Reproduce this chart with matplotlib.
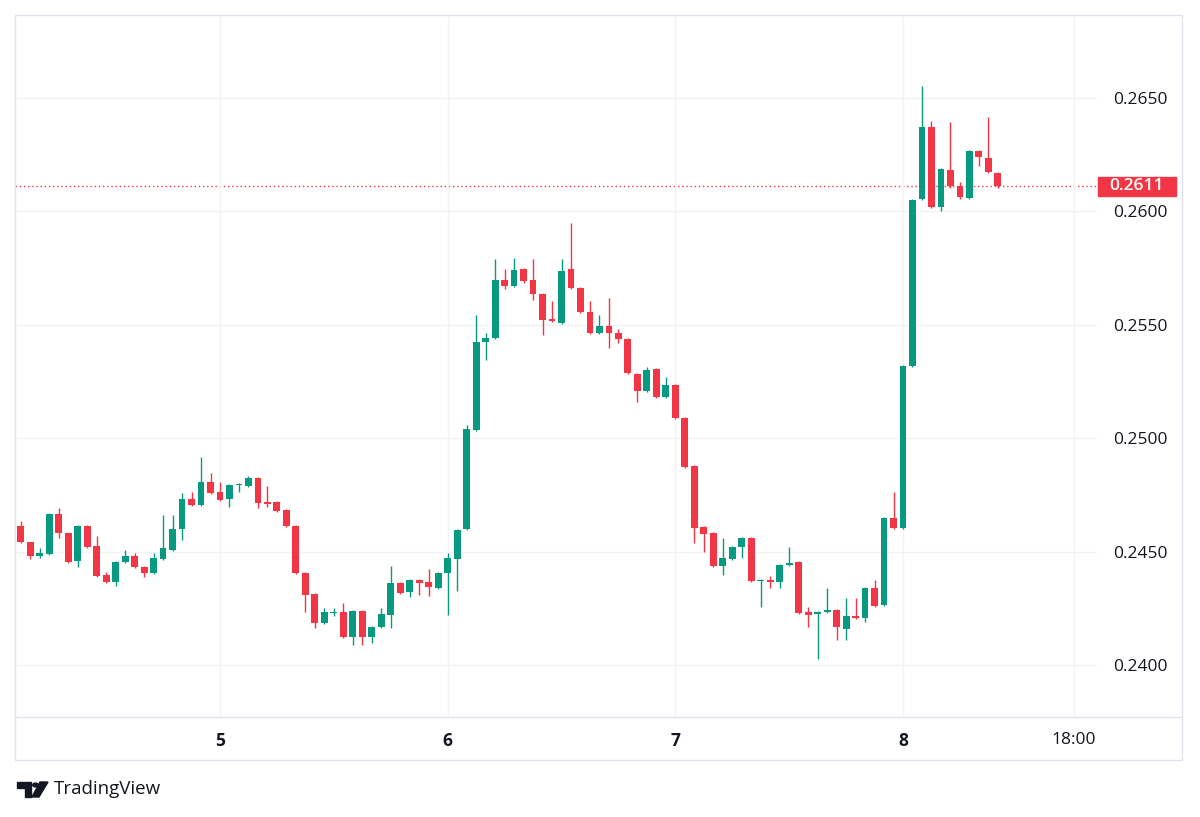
import matplotlib.pyplot as plt
import matplotlib.transforms as mtransforms
from matplotlib.patches import Rectangle, Polygon, Circle
from matplotlib.lines import Line2D

plt.rcParams['font.family'] = ['Open Sans', 'DejaVu Sans']

# one candle per hour, hours counted from the 5th 00:00
hours = list(range(-21, 83))

opens = [
    0.24613, 0.24542, 0.24481, 0.24489, 0.24666, 0.24582, 0.24459, 0.24613, 0.24525, 0.24397,
    0.24366, 0.24454, 0.24481, 0.24432, 0.24406, 0.24467, 0.24507, 0.24600, 0.24732, 0.24706,
    0.24807, 0.24763, 0.24732, 0.24794, 0.24789, 0.24825, 0.24719, 0.24719, 0.24683, 0.24613,
    0.24406, 0.24313, 0.24185, 0.24229, 0.24234, 0.24124, 0.24238, 0.24124, 0.24168, 0.24221,
    0.24362, 0.24322, 0.24375, 0.24366, 0.24340, 0.24406, 0.24467, 0.24600, 0.25036, 0.25424,
    0.25442, 0.25698, 0.25671, 0.25746, 0.25698, 0.25636, 0.25526, 0.25508, 0.25746, 0.25662,
    0.25556, 0.25464, 0.25495, 0.25464, 0.25437, 0.25283, 0.25208, 0.25305, 0.25182, 0.25235,
    0.25089, 0.24878, 0.24609, 0.24582, 0.24437, 0.24467, 0.24520, 0.24560, 0.24370, 0.24375,
    0.24366, 0.24441, 0.24454, 0.24234, 0.24225, 0.24234, 0.24243, 0.24159, 0.24216, 0.24207,
    0.24340, 0.24265, 0.24648, 0.24604, 0.25318, 0.26055, 0.26372, 0.26019, 0.26183, 0.26110,
    0.26059, 0.26266, 0.26235, 0.26169,
]
highs = [
    0.24635, 0.24542, 0.24516, 0.24670, 0.24692, 0.24582, 0.24617, 0.24617, 0.24569, 0.24410,
    0.24459, 0.24507, 0.24494, 0.24437, 0.24494, 0.24661, 0.24661, 0.24758, 0.24763, 0.24917,
    0.24847, 0.24807, 0.24798, 0.24803, 0.24833, 0.24829, 0.24789, 0.24723, 0.24688, 0.24617,
    0.24410, 0.24318, 0.24251, 0.24251, 0.24273, 0.24243, 0.24243, 0.24172, 0.24251, 0.24437,
    0.24366, 0.24379, 0.24379, 0.24423, 0.24410, 0.24494, 0.24600, 0.25058, 0.25543, 0.25464,
    0.25790, 0.25746, 0.25795, 0.25750, 0.25790, 0.25640, 0.25605, 0.25790, 0.25949, 0.25667,
    0.25605, 0.25543, 0.25618, 0.25482, 0.25442, 0.25288, 0.25314, 0.25310, 0.25270, 0.25239,
    0.25094, 0.24882, 0.24613, 0.24587, 0.24560, 0.24525, 0.24564, 0.24564, 0.24379, 0.24393,
    0.24445, 0.24520, 0.24459, 0.24256, 0.24238, 0.24340, 0.24247, 0.24296, 0.24296, 0.24345,
    0.24375, 0.24653, 0.24763, 0.25323, 0.26055, 0.26553, 0.26399, 0.26191, 0.26394, 0.26130,
    0.26271, 0.26271, 0.26415, 0.26174,
]
lows = [
    0.24538, 0.24467, 0.24472, 0.24485, 0.24560, 0.24450, 0.24432, 0.24516, 0.24388, 0.24362,
    0.24348, 0.24450, 0.24428, 0.24388, 0.24401, 0.24463, 0.24503, 0.24551, 0.24701, 0.24701,
    0.24754, 0.24723, 0.24697, 0.24763, 0.24785, 0.24692, 0.24697, 0.24675, 0.24609, 0.24401,
    0.24234, 0.24163, 0.24181, 0.24216, 0.24119, 0.24088, 0.24088, 0.24097, 0.24163, 0.24163,
    0.24313, 0.24300, 0.24309, 0.24304, 0.24335, 0.24221, 0.24326, 0.24595, 0.25032, 0.25345,
    0.25437, 0.25658, 0.25667, 0.25684, 0.25609, 0.25455, 0.25512, 0.25504, 0.25658, 0.25552,
    0.25459, 0.25459, 0.25398, 0.25420, 0.25283, 0.25160, 0.25204, 0.25177, 0.25177, 0.25085,
    0.24869, 0.24538, 0.24498, 0.24432, 0.24397, 0.24463, 0.24472, 0.24366, 0.24256, 0.24340,
    0.24340, 0.24437, 0.24225, 0.24168, 0.24027, 0.24229, 0.24110, 0.24110, 0.24203, 0.24190,
    0.24256, 0.24260, 0.24600, 0.24600, 0.25314, 0.26050, 0.26015, 0.26002, 0.26103, 0.26055,
    0.26055, 0.26200, 0.26169, 0.26103,
]
closes = [
    0.24542, 0.24481, 0.24494, 0.24666, 0.24582, 0.24454, 0.24613, 0.24520, 0.24393, 0.24366,
    0.24454, 0.24481, 0.24432, 0.24406, 0.24472, 0.24516, 0.24600, 0.24732, 0.24706, 0.24807,
    0.24758, 0.24728, 0.24794, 0.24798, 0.24825, 0.24714, 0.24710, 0.24679, 0.24613, 0.24406,
    0.24309, 0.24185, 0.24234, 0.24234, 0.24124, 0.24238, 0.24124, 0.24168, 0.24225, 0.24362,
    0.24318, 0.24375, 0.24362, 0.24344, 0.24406, 0.24472, 0.24595, 0.25041, 0.25424, 0.25442,
    0.25698, 0.25671, 0.25742, 0.25693, 0.25636, 0.25521, 0.25517, 0.25737, 0.25662, 0.25556,
    0.25464, 0.25495, 0.25464, 0.25437, 0.25288, 0.25208, 0.25301, 0.25182, 0.25235, 0.25089,
    0.24873, 0.24604, 0.24578, 0.24437, 0.24472, 0.24520, 0.24560, 0.24370, 0.24375, 0.24366,
    0.24441, 0.24450, 0.24229, 0.24221, 0.24234, 0.24243, 0.24168, 0.24216, 0.24207, 0.24340,
    0.24260, 0.24648, 0.24604, 0.25318, 0.26050, 0.26372, 0.26019, 0.26187, 0.26110, 0.26064,
    0.26266, 0.26240, 0.26174, 0.26110,
]

time_ticks = [0, 24, 48, 72, 90]
time_labels = ['5', '6', '7', '8', '18:00']
price_ticks = [0.2400, 0.2450, 0.2500, 0.2550, 0.2600, 0.2650]
last_price = 0.2611

up_color = '#089981'
down_color = '#f23645'
text_color = '#131722'
grid_color = '#f2f3f5'
border_color = '#e0e3eb'

W, H = 1200, 817
fig = plt.figure(figsize=(W / 100, H / 100), dpi=100)
fig.patch.set_facecolor('white')
ax = fig.add_axes([15 / W, (H - 717) / H, 1082 / W, 702 / H])

colors = [up_color if c >= o else down_color for o, c in zip(opens, closes)]
bottoms = [min(o, c) for o, c in zip(opens, closes)]
heights = [max(abs(c - o), 0.00004) for o, c in zip(opens, closes)]

ax.vlines(hours, lows, highs, colors=colors, lw=1, zorder=2)
ax.bar(hours, heights, bottom=bottoms, width=0.72, color=colors, zorder=3)

ax.axhline(last_price, color=down_color, lw=1, ls=(0, (1, 2)), zorder=1)

ax.set_xlim(-21.61, 92.45)
ax.set_ylim(0.237708, 0.268659)

ax.set_xticks(time_ticks)
ax.set_xticklabels(time_labels)
for lab in ax.get_xticklabels()[:4]:
    lab.set_fontweight('bold')
ax.yaxis.tick_right()
ax.set_yticks(price_ticks)
ax.set_yticklabels([f'{p:.4f}' for p in price_ticks])
ax.tick_params(axis='x', length=0, pad=11, labelsize=12.5, labelcolor=text_color)
ax.tick_params(axis='y', length=0, pad=11.5, labelsize=12.5, labelcolor=text_color)
for lab in ax.get_yticklabels():
    lab.set_horizontalalignment('left')

ax.grid(color=grid_color, lw=1, zorder=0)
for s in ax.spines.values():
    s.set_visible(False)

# last price tag
trans = mtransforms.blended_transform_factory(ax.transAxes, ax.transData)
ax.add_patch(Rectangle((1.0009, last_price - 0.00043), 78 / 1082, 0.00086,
                       transform=trans, color=down_color, clip_on=False, zorder=5))
ax.text((1137 - 15) / 1082, last_price, f'{last_price:.4f}', transform=trans,
        ha='center', va='center', color='white', fontsize=12.5, fontweight='semibold',
        clip_on=False, zorder=6)

# outer frame and time axis separator
fig.patches.append(Rectangle((15 / W, (H - 760) / H), 1167 / W, 745 / H,
                             transform=fig.transFigure, fill=False,
                             ec=border_color, lw=1))
fig.lines.append(Line2D([15 / W, 1182 / W], [(H - 717) / H] * 2,
                        transform=fig.transFigure, color=border_color, lw=1))

# TradingView logo
def fp(x, y):
    return (x / W, (H - y) / H)

fig.patches.append(Polygon([fp(17, 782), fp(31, 782), fp(31, 797), fp(25, 797),
                            fp(25, 788), fp(17, 788)], closed=True,
                           transform=fig.transFigure, color=text_color))
fig.patches.append(Circle(fp(35.5, 785), 2.8 / W, transform=fig.transFigure,
                          color=text_color))
fig.patches.append(Polygon([fp(40, 782), fp(48, 782), fp(39, 797), fp(32, 797)],
                           closed=True, transform=fig.transFigure, color=text_color))
fig.text(54 / W, (H - 789.5) / H, 'TradingView', ha='left', va='center',
         fontsize=13.5, color=text_color)

fig.savefig('out.png', dpi=100)
